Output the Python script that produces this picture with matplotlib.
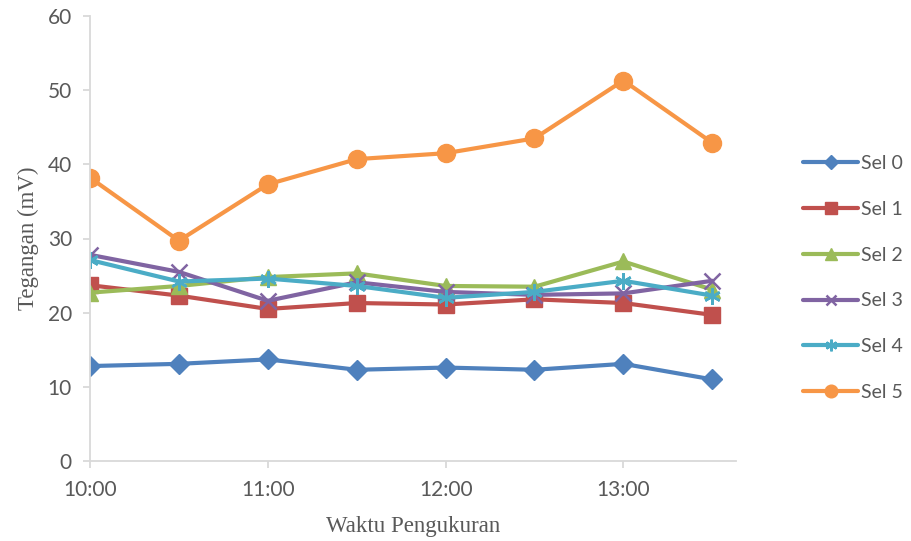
import matplotlib
matplotlib.use("Agg")
import matplotlib.pyplot as plt

# time in minutes after 10:00
times_min = [0, 30, 60, 90, 120, 150, 180, 210]
series_names = ["Sel 0", "Sel 1", "Sel 2", "Sel 3", "Sel 4", "Sel 5"]
sel0 = [12.8, 13.1, 13.7, 12.3, 12.6, 12.3, 13.1, 11.0]
sel1 = [23.7, 22.3, 20.5, 21.3, 21.1, 21.8, 21.3, 19.7]
sel2 = [22.7, 23.6, 24.8, 25.3, 23.6, 23.5, 26.9, 23.1]
sel3 = [27.8, 25.5, 21.6, 24.1, 22.8, 22.4, 22.6, 24.3]
sel4 = [27.1, 24.2, 24.6, 23.6, 22.0, 22.8, 24.3, 22.3]
sel5 = [38.2, 29.7, 37.3, 40.7, 41.5, 43.5, 51.3, 42.9]
x_tick_labels = ["10:00", "11:00", "12:00", "13:00"]
x_tick_pos = [0, 60, 120, 180]

colors = ["#4F81BD", "#C0504D", "#9BBB59", "#8064A2", "#4BACC6", "#F79646"]
markers = ["D", "s", "^", "x", (6, 2, 0), "o"]
msizes = [10.5, 12, 12, 11, 12, 13]

fig = plt.figure(figsize=(9.11, 5.41), dpi=100)
ax = fig.add_axes([90/911, 1-461/541, (736-90)/911, (461-16)/541])

data = [sel0, sel1, sel2, sel3, sel4, sel5]
for name, vals, c, m, ms in zip(series_names, data, colors, markers, msizes):
    kw = {}
    if m in ("x", (6, 2, 0)):
        kw = dict(markeredgewidth=1.8, markeredgecolor=c)
    ax.plot(times_min, vals, color=c, lw=3, marker=m, markersize=ms,
            label=name, solid_capstyle="round", **kw)

ax.set_xlim(0, 218)
ax.set_ylim(0, 60)
ax.set_yticks(range(0, 61, 10))
ax.set_xticks(x_tick_pos)
ax.set_xticklabels(x_tick_labels)

for s in ["top", "right"]:
    ax.spines[s].set_visible(False)
for s in ["left", "bottom"]:
    ax.spines[s].set_color("#D9D9D9")
    ax.spines[s].set_linewidth(1.3)
ax.tick_params(axis="both", colors="#D9D9D9", length=5, width=1.3,
               labelcolor="#595959", labelsize=15)
for lbl in ax.get_xticklabels() + ax.get_yticklabels():
    lbl.set_fontfamily("Lato")
ax.tick_params(axis="x", pad=9)
ax.tick_params(axis="y", pad=8)

ax.set_xlabel("Waktu Pengukuran", fontfamily="Liberation Serif", fontsize=16.5,
              color="#595959", labelpad=11)
ax.set_ylabel("Tegangan (mV)", fontfamily="Liberation Serif", fontsize=16.5,
              color="#595959", labelpad=6)

leg = fig.legend(loc="center left", bbox_to_anchor=(803/911, 1-278/541),
                 frameon=False, handlelength=2.85, handletextpad=0.15,
                 labelspacing=1.48, markerscale=0.7, borderaxespad=0,
                 borderpad=0, prop={"family": "Lato", "size": 14})
for t in leg.get_texts():
    t.set_color("#595959")

fig.savefig("out.png", dpi=100)
